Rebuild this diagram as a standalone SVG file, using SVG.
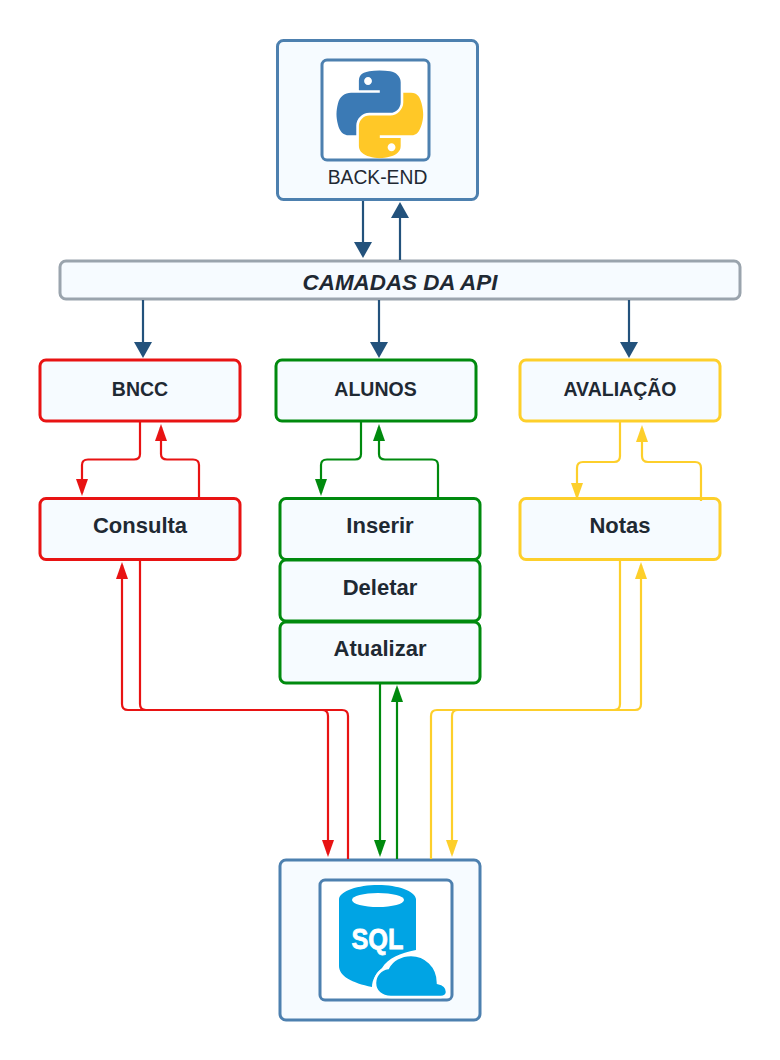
<svg xmlns="http://www.w3.org/2000/svg" width="780" height="1060" viewBox="0 0 780 1060">
<style>
text{font-family:"Liberation Sans",Arial,sans-serif;fill:#1f2933;text-anchor:middle}
.b{fill:#f6fbff;stroke-width:3}
.blue{stroke:#4d80af}.grey{stroke:#9aa4ad}.red{stroke:#e81313}.green{stroke:#008a0e}.yellow{stroke:#fdcf2b}
.in{fill:#fff;stroke:#4d80af;stroke-width:3}
.t{font-weight:700;font-size:22px}
.s{font-weight:700;font-size:19.500px}
.c{fill:none;stroke-width:2.200}
.n{stroke:#23527c}
</style>
<defs>
<marker id="an" markerUnits="userSpaceOnUse" markerWidth="18" markerHeight="18" refX="13" refY="9" orient="auto"><path d="M0 0L16 9L0 18Z" fill="#23527c"/></marker>
<marker id="ar" markerUnits="userSpaceOnUse" markerWidth="18" markerHeight="12" refX="14" refY="6" orient="auto"><path d="M0 0L17 6L0 12Z" fill="#e81313"/></marker>
<marker id="ag" markerUnits="userSpaceOnUse" markerWidth="18" markerHeight="12" refX="14" refY="6" orient="auto"><path d="M0 0L17 6L0 12Z" fill="#008a0e"/></marker>
<marker id="ay" markerUnits="userSpaceOnUse" markerWidth="18" markerHeight="12" refX="14" refY="6" orient="auto"><path d="M0 0L17 6L0 12Z" fill="#fdcf2b"/></marker>
</defs>
<rect width="780" height="1060" fill="#fff"/>
<g id="backend">
<rect class="b blue" x="277.500" y="40.500" width="200" height="159" rx="6"/>
<rect class="in" x="322" y="60" width="107" height="100" rx="5"/>
<g transform="translate(336.500 70.500) scale(.78)">
<path fill="#3b7ab5" fill-rule="evenodd" d="M54.919.001c-4.584.022-8.961.413-12.813 1.095C30.76 3.099 28.7 7.295 28.7 15.032v10.219h26.813v3.406H18.638c-7.793 0-14.616 4.684-16.75 13.594-2.462 10.213-2.571 16.586 0 27.25 1.906 7.938 6.457 13.594 14.25 13.594h9.219V70.844c0-8.85 7.657-16.656 16.75-16.656h26.781c7.454 0 13.406-6.138 13.406-13.625V15.032c0-7.266-6.13-12.725-13.406-13.937C64.282.328 59.502-.02 54.919.001zM40.419 8.22c2.77 0 5.031 2.299 5.031 5.125 0 2.816-2.262 5.094-5.031 5.094-2.779 0-5.031-2.277-5.031-5.094 0-2.826 2.252-5.125 5.031-5.125z"/>
<path fill="#ffc827" fill-rule="evenodd" d="M85.638 28.657v11.906c0 9.231-7.826 17-16.75 17H42.106c-7.336 0-13.406 6.278-13.406 13.625v25.531c0 7.266 6.319 11.54 13.406 13.625 8.487 2.496 16.626 2.947 26.781 0 6.75-1.954 13.406-5.888 13.406-13.625V86.501H55.513v-3.406h40.187c7.793 0 10.696-5.436 13.406-13.594 2.799-8.399 2.741-16.476 0-27.25-1.926-7.757-5.604-13.594-13.406-13.594H85.638zM70.575 93.313c2.779 0 5.031 2.277 5.031 5.094 0 2.826-2.252 5.125-5.031 5.125-2.77 0-5.031-2.299-5.031-5.125 0-2.816 2.262-5.094 5.031-5.094z"/>
</g>
<text x="377.500" y="184" font-size="19.300">BACK-END</text>
</g>
<g id="camadas"><rect class="b grey" x="60" y="261" width="680" height="38" rx="6"/><text x="400" y="290" font-weight="700" font-style="italic" font-size="22.400">CAMADAS DA API</text></g>
<g id="bncc"><rect class="b red" x="40" y="360" width="200" height="61" rx="6"/><text class="s" x="140" y="395.500">BNCC</text></g>
<g id="alunos"><rect class="b green" x="276" y="360" width="200" height="61" rx="6"/><text class="s" x="375.500" y="395.500">ALUNOS</text></g>
<g id="avaliacao"><rect class="b yellow" x="520" y="360" width="200" height="61" rx="6"/><text class="s" x="620" y="395.500">AVALIAÇÃO</text></g>
<g id="consulta"><rect class="b red" x="40" y="498.500" width="200" height="61" rx="6"/><text class="t" x="140" y="533">Consulta</text></g>
<g id="inserir"><rect class="b green" x="280" y="498.500" width="200" height="61" rx="6"/><text class="t" x="380" y="533">Inserir</text></g>
<g id="deletar"><rect class="b green" x="280" y="560" width="200" height="61" rx="6"/><text class="t" x="380" y="594.500">Deletar</text></g>
<g id="atualizar"><rect class="b green" x="280" y="622" width="200" height="61" rx="6"/><text class="t" x="380" y="655.500">Atualizar</text></g>
<g id="notas"><rect class="b yellow" x="520" y="498.500" width="200" height="61" rx="6"/><text class="t" x="620" y="533">Notas</text></g>
<g id="sql">
<rect class="b blue" x="280" y="860" width="200" height="160" rx="6"/>
<rect class="in" x="320" y="880" width="132" height="120" rx="5"/>
<path fill="#00a4e4" d="M339 899C340 891 358 885 378 885C398 885 415 891 416 899V950C400 953 388 958 382 968C376 973 372 980 372 987C352 983 339 976 339 966Z"/>
<ellipse cx="378" cy="900" rx="26" ry="7" fill="#fff"/>
<path fill="#00a4e4" stroke="#fff" stroke-width="2.500" d="M391 997C381 997 375 991 375 983C375 975 381 969 388 968C392 960 401 955 411 955C425 955 438 966 438 983C443 984 447 987 447 992C447 995 444 997 441 997Z"/>
<text x="377.500" y="949" textLength="52" lengthAdjust="spacingAndGlyphs" style="font-weight:700;font-size:30px;fill:#fff;stroke:#fff;stroke-width:.8">SQL</text>
</g>
<g id="connectors">
<g class="c n">
<path d="M363 201V255" marker-end="url(#an)"/><path d="M400 260V205" marker-end="url(#an)"/>
<path d="M143 300V355" marker-end="url(#an)"/><path d="M379 300V355" marker-end="url(#an)"/><path d="M629 300V355" marker-end="url(#an)"/>
</g>
<g class="c red">
<path d="M140 422V454Q140 459.500 134 459.500H88Q82 459.500 82 465V493" marker-end="url(#ar)"/>
<path d="M199 497V465Q199 459.500 193 459.500H167Q161 459.500 161 454V427" marker-end="url(#ar)"/>
<path d="M140 561V704Q140 710 146 710H322Q328 710 328 716V854" marker-end="url(#ar)"/>
<path d="M348 859V716Q348 710 342 710H128Q122 710 122 704V565" marker-end="url(#ar)"/>
</g>
<g class="c green">
<path d="M361 422V454Q361 459.500 355 459.500H327Q321 459.500 321 465V493" marker-end="url(#ag)"/>
<path d="M438 497V465Q438 459.500 432 459.500H385Q379 459.500 379 454V427" marker-end="url(#ag)"/>
<path d="M380 684V854" marker-end="url(#ag)"/>
<path d="M397 859V688" marker-end="url(#ag)"/>
</g>
<g class="c yellow">
<path d="M620 422V456Q620 462 614 462H583Q577 462 577 468V497" marker-end="url(#ay)"/>
<path d="M701 501V468Q701 462 695 462H648Q642 462 642 456V428" marker-end="url(#ay)"/>
<path d="M620 561V704Q620 710 614 710H458Q452 710 452 716V854" marker-end="url(#ay)"/>
<path d="M431 859V716Q431 710 437 710H635Q641 710 641 704V565" marker-end="url(#ay)"/>
</g>
</g>
</svg>
